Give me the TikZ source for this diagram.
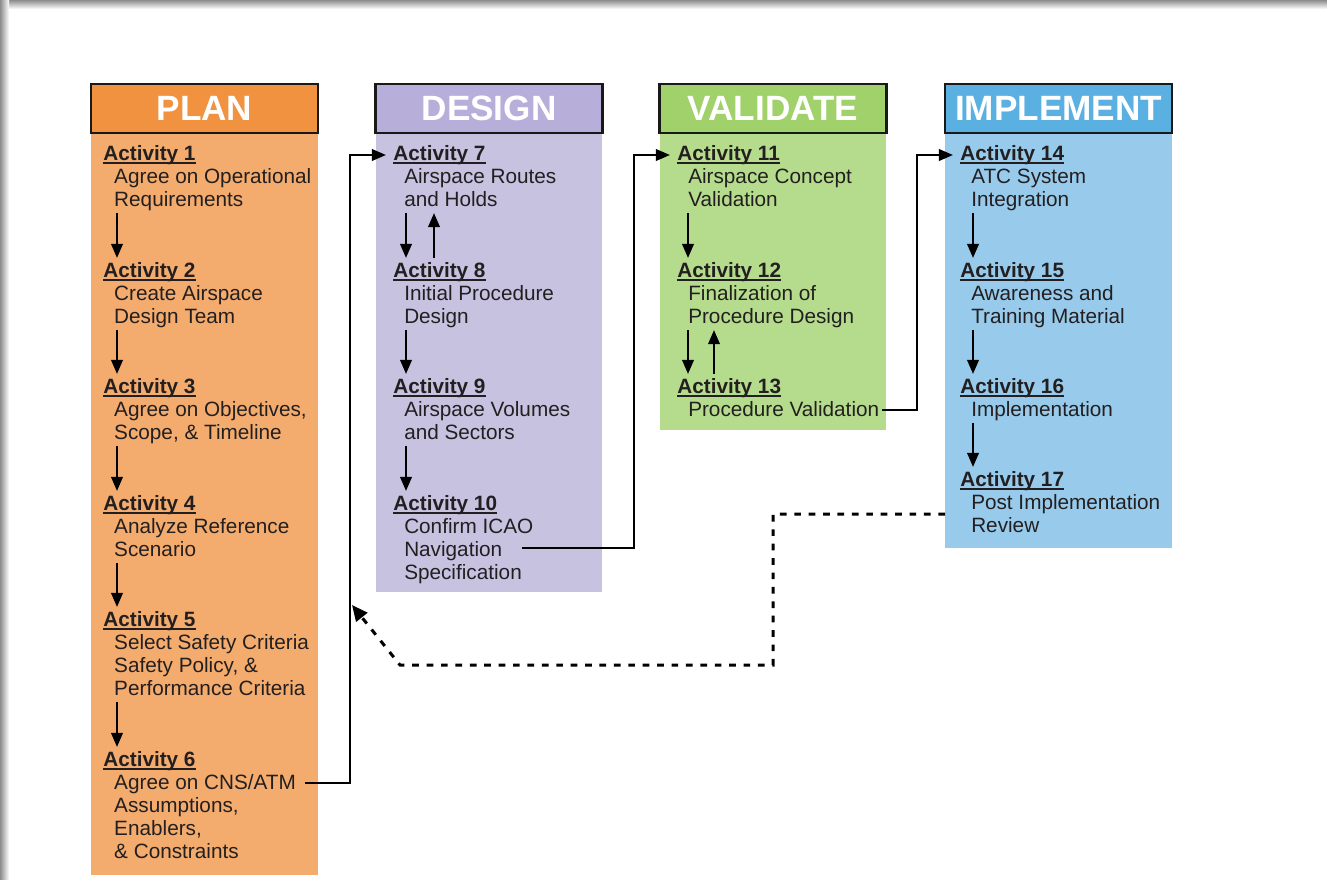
\documentclass[tikz,border=0pt]{standalone}
\usepackage{fontspec}
\setmainfont{Liberation Sans}
\usetikzlibrary{arrows.meta,calc}

\definecolor{planhead}{RGB}{240,146,63}
\definecolor{planbody}{RGB}{243,172,110}
\definecolor{designhead}{RGB}{184,174,218}
\definecolor{designbody}{RGB}{198,194,224}
\definecolor{validhead}{RGB}{160,209,106}
\definecolor{validbody}{RGB}{181,220,140}
\definecolor{implhead}{RGB}{91,176,226}
\definecolor{implbody}{RGB}{152,203,235}
\definecolor{ink}{RGB}{35,31,32}

\newcommand\acttitle[1]{\textbf{\setbox0\hbox{#1}\rlap{\rule[-1.7pt]{\wd0}{0.8pt}}\box0}\strut}
\newcommand\actline[1]{\hspace*{6.2pt}#1\strut}

\begin{document}
\begin{tikzpicture}[x=0.02cm,y=-0.02cm,
  head/.style={draw=black!90,line width=1.5pt,minimum width=4.54cm,minimum height=0.98cm,
    inner sep=0pt,text=white,font=\fontsize{20}{22}\selectfont\bfseries},
  act/.style={anchor=north west,inner sep=0pt,align=left,text=ink,
    font=\fontsize{11.8}{13.15}\selectfont},
  flow/.style={line width=1.35pt,-{Triangle[width=6.5pt,length=8pt]}},
  loop/.style={line width=1.7pt,dash pattern=on 3.8pt off 4.4pt,
    -{Triangle[width=8pt,length=9pt]}}]

\useasboundingbox (0,0) rectangle (1327,879);
\shade[top color=black!45,bottom color=white] (0,0) rectangle (1327,9);
\shade[left color=black!45,right color=white] (0,0) rectangle (9,879);

% columns
\fill[planbody] (91,133) rectangle (318,875);
\fill[designbody] (376,133) rectangle (602,592);
\fill[validbody] (660,133) rectangle (886,430);
\fill[implbody] (945,133) rectangle (1172,548);

\node[head,fill=planhead] (plan) at (204.5,108.5) {PLAN};
\node[head,fill=designhead] (design) at (489,108.5) {DESIGN};
\node[head,fill=validhead] (validate) at (773,108.5) {VALIDATE};
\node[head,fill=implhead] (implement) at (1058.5,108.5) {IMPLEMENT};

% plan
\node[act] (act1) at (103,144) {\acttitle{Activity 1}\\\actline{Agree on Operational}\\\actline{Requirements}};
\node[act] (act2) at (103,261) {\acttitle{Activity 2}\\\actline{Create Airspace}\\\actline{Design Team}};
\node[act] (act3) at (103,377) {\acttitle{Activity 3}\\\actline{Agree on Objectives,}\\\actline{Scope, \& Timeline}};
\node[act] (act4) at (103,494) {\acttitle{Activity 4}\\\actline{Analyze Reference}\\\actline{Scenario}};
\node[act] (act5) at (103,610) {\acttitle{Activity 5}\\\actline{Select Safety Criteria}\\\actline{Safety Policy, \&}\\\actline{Performance Criteria}};
\node[act] (act6) at (103,750) {\acttitle{Activity 6}\\\actline{Agree on CNS/ATM}\\\actline{Assumptions,}\\\actline{Enablers,}\\\actline{\& Constraints}};

% design
\node[act] (act7) at (393,144) {\acttitle{Activity 7}\\\actline{Airspace Routes}\\\actline{and Holds}};
\node[act] (act8) at (393,261) {\acttitle{Activity 8}\\\actline{Initial Procedure}\\\actline{Design}};
\node[act] (act9) at (393,377) {\acttitle{Activity 9}\\\actline{Airspace Volumes}\\\actline{and Sectors}};
\node[act] (act10) at (393,494) {\acttitle{Activity 10}\\\actline{Confirm ICAO}\\\actline{Navigation}\\\actline{Specification}};

% validate
\node[act] (act11) at (677,144) {\acttitle{Activity 11}\\\actline{Airspace Concept}\\\actline{Validation}};
\node[act] (act12) at (677,261) {\acttitle{Activity 12}\\\actline{Finalization of}\\\actline{Procedure Design}};
\node[act] (act13) at (677,377) {\acttitle{Activity 13}\\\actline{Procedure Validation}};

% implement
\node[act] (act14) at (960,144) {\acttitle{Activity 14}\\\actline{ATC System}\\\actline{Integration}};
\node[act] (act15) at (960,261) {\acttitle{Activity 15}\\\actline{Awareness and}\\\actline{Training Material}};
\node[act] (act16) at (960,377) {\acttitle{Activity 16}\\\actline{Implementation}};
\node[act] (act17) at (960,470) {\acttitle{Activity 17}\\\actline{Post Implementation}\\\actline{Review}};

% steps inside the columns
\draw[flow] ($(act1.south west)+(14,-1)$) -- ($(act2.north west)+(14,-3)$);
\draw[flow] ($(act2.south west)+(14,-1)$) -- ($(act3.north west)+(14,-3)$);
\draw[flow] ($(act3.south west)+(14,-1)$) -- ($(act4.north west)+(14,-3)$);
\draw[flow] ($(act4.south west)+(14,-1)$) -- ($(act5.north west)+(14,-3)$);
\draw[flow] ($(act5.south west)+(14,-1)$) -- ($(act6.north west)+(14,-3)$);

\draw[flow] ($(act7.south west)+(13,-1)$) -- ($(act8.north west)+(13,-3)$);
\draw[flow] ($(act8.north west)+(41,-3)$) -- ($(act7.south west)+(41,-1)$);
\draw[flow] ($(act8.south west)+(13,-1)$) -- ($(act9.north west)+(13,-3)$);
\draw[flow] ($(act9.south west)+(13,-1)$) -- ($(act10.north west)+(13,-3)$);

\draw[flow] ($(act11.south west)+(11,-1)$) -- ($(act12.north west)+(11,-3)$);
\draw[flow] ($(act12.south west)+(11,-1)$) -- ($(act13.north west)+(11,-3)$);
\draw[flow] ($(act13.north west)+(37,-3)$) -- ($(act12.south west)+(37,-1)$);

\draw[flow] ($(act14.south west)+(13,-1)$) -- ($(act15.north west)+(13,-3)$);
\draw[flow] ($(act15.south west)+(13,-1)$) -- ($(act16.north west)+(13,-3)$);
\draw[flow] ($(act16.south west)+(13,-1)$) -- ($(act17.north west)+(13,-3)$);

% from one phase to the next
\draw[flow] ($(act6.north west)+(202,33)$) -| ($(act7.north west)+(-43,11)$) -- ($(act7.north west)+(-7,11)$);
\draw[flow] ($(act10.north west)+(129,54)$) -| ($(act11.north west)+(-43,11)$) -- ($(act11.north west)+(-7,11)$);
\draw[flow] ($(act13.north west)+(205,33)$) -| ($(act14.north west)+(-43,11)$) -- ($(act14.north west)+(-7,11)$);

% back to the start
\coordinate (loopback) at (352,605);
\draw[loop] ($(act17.north west)+(-15,44)$) -- ++(-172,0) -- ++(0,151) -- ++(-373,0) -- (loopback);

\end{tikzpicture}
\end{document}
